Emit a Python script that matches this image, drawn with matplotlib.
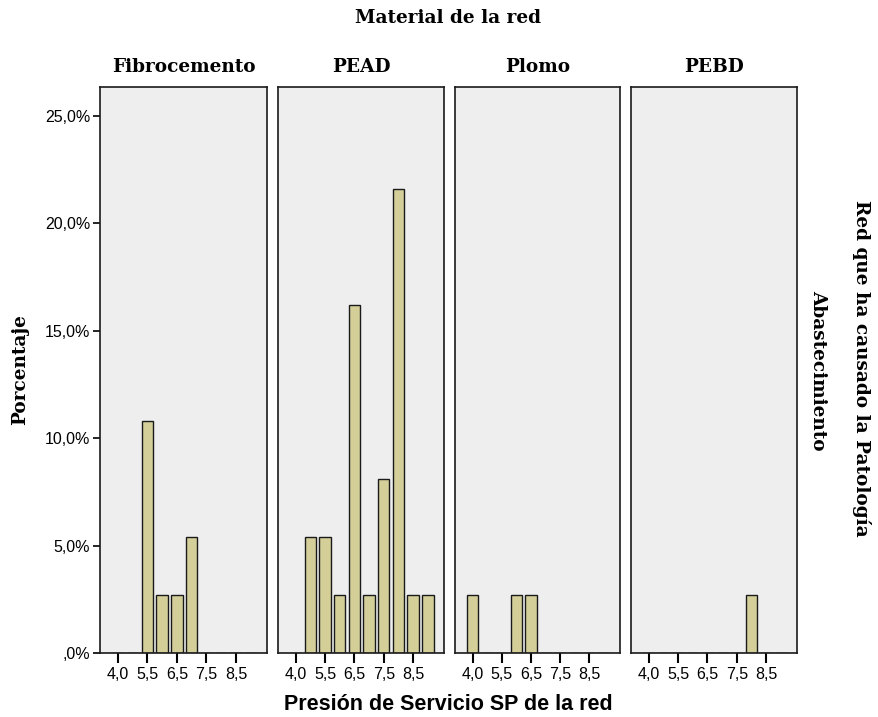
import matplotlib
matplotlib.use('Agg')
import matplotlib.pyplot as plt
from matplotlib.ticker import FuncFormatter

# datos: presión de servicio (categorías) y porcentaje por material
presion = ['4,0', '5,0', '5,5', '6,0', '6,5', '7,0', '7,5', '8,0', '8,5', '9,0']
materiales = ['Fibrocemento', 'PEAD', 'Plomo', 'PEBD']
n_total = 37
conteos = {
    'Fibrocemento': [0, 0, 4, 1, 1, 2, 0, 0, 0, 0],
    'PEAD':         [0, 2, 2, 1, 6, 1, 3, 8, 1, 1],
    'Plomo':        [1, 0, 0, 1, 1, 0, 0, 0, 0, 0],
    'PEBD':         [0, 0, 0, 0, 0, 0, 0, 1, 0, 0],
}

serif = ['DejaVu Serif']
sans = ['Liberation Sans', 'DejaVu Sans']
fs_serif = 13.3

W, H = 879, 717
fig = plt.figure(figsize=(W / 100, H / 100), dpi=100)

# posiciones de los paneles en pixeles (izq, der)
paneles = [(100, 267), (278, 444), (455, 620), (631, 797)]
y_top, y_bot = 87, 653

def fmt_pct(v, pos):
    s = f'{v:.1f}'.replace('.', ',')
    if s.startswith('0'):
        s = s[1:]
    return s + '%'

for i, (mat, (x0, x1)) in enumerate(zip(materiales, paneles)):
    ax = fig.add_axes([x0 / W, 1 - y_bot / H, (x1 - x0) / W, (y_bot - y_top) / H])
    ax.set_facecolor('#eeeeee')
    vals = [c / n_total * 100 for c in conteos[mat]]
    xs = list(range(len(presion)))
    ax.bar(xs, vals, width=0.78, color='#d4cf99', edgecolor='#1a1a1a', linewidth=1.0)
    ax.set_xlim(-1.2, 10.1)
    ax.set_ylim(0, 26.35)
    ax.set_xticks(xs[::2])
    ax.set_xticklabels(presion[::2], fontsize=11.5, family=sans)
    ax.tick_params(axis='x', direction='out', length=7, width=1.5, pad=3)
    for s in ax.spines.values():
        s.set_linewidth(1.2)
        s.set_color('#1a1a1a')
    if i == 0:
        ax.set_yticks([0, 5, 10, 15, 20, 25])
        ax.yaxis.set_major_formatter(FuncFormatter(fmt_pct))
        ax.tick_params(axis='y', direction='out', length=5, width=1.2, labelsize=11.5, pad=2)
        for lab in ax.get_yticklabels():
            lab.set_family(sans)
        ax.set_ylabel('Porcentaje', fontsize=fs_serif, fontweight='bold', family=serif, labelpad=11)
    else:
        ax.set_yticks([])
    ax.set_title(mat, fontsize=fs_serif, fontweight='bold', family=serif, pad=11)

fig.text(448 / W, 1 - 18 / H, 'Material de la red', ha='center', va='center',
         fontsize=fs_serif, fontweight='bold', family=serif)
fig.text(448 / W, 1 - 704 / H, 'Presión de Servicio SP de la red', ha='center', va='center',
         fontsize=15.5, fontweight='bold', family=sans)
fig.text(862 / W, 1 - 368 / H, 'Red que ha causado la Patología', ha='center', va='center',
         rotation=270, fontsize=fs_serif, fontweight='bold', family=serif)
fig.text(818 / W, 1 - 370 / H, 'Abastecimiento', ha='center', va='center',
         rotation=270, fontsize=fs_serif, fontweight='bold', family=serif)

plt.savefig('out.png', dpi=100)
